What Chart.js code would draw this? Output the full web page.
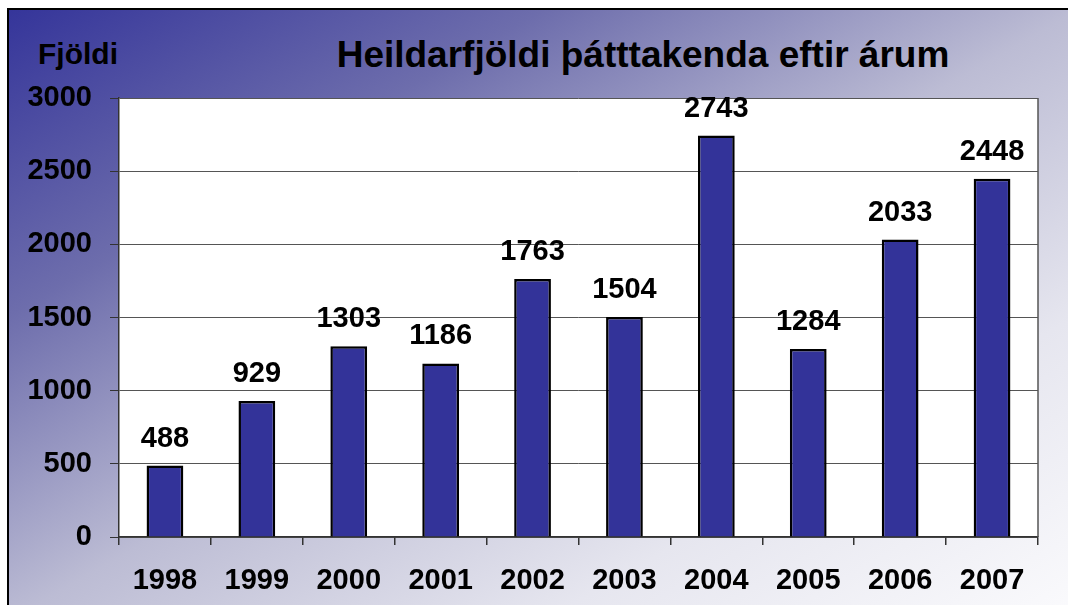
<!DOCTYPE html>
<html>
<head>
<meta charset="utf-8">
<script src="https://cdn.jsdelivr.net/npm/chart.js@4"></script>
<style>
  html, body { margin: 0; padding: 0; background: #fff; overflow: hidden; }
  body { width: 1068px; height: 605px; position: relative; font-family: "Liberation Sans", Arial, sans-serif; }
  #topline { position: absolute; left: 130px; top: -23px; font: bold 19px "DejaVu Serif", serif; color: #4a86c8; white-space: nowrap; }
  #frame { position: absolute; left: 7px; top: 8px; width: 1070px; height: 610px; border-top: 2px solid #000; border-left: 2px solid #000;
           background: linear-gradient(to bottom right, #35359a 0%, #6d6dac 25%, #bcbcd4 50%, #e6e6ef 75%, #fbfbfd 100%); }
  #ylabel { position: absolute; left: 38px; top: 39px; font-weight: bold; font-size: 30px; line-height: 30px; color: #000; }
  #title { position: absolute; left: 643px; top: 36px; transform: translateX(-50%); font-weight: bold; font-size: 37px; line-height: 37px; color: #000; white-space: nowrap; }
  #chart { position: absolute; left: 0; top: 0; }
</style>
</head>
<body>
<div id="topline">Mynd: Fjöldi þátttakenda eftir ári</div>
<div id="frame"></div>
<div id="ylabel">Fjöldi</div>
<div id="title">Heildarfjöldi þátttakenda eftir árum</div>
<canvas id="chart" width="1068" height="605"></canvas>
<script>
// Chart data
const years = ['1998', '1999', '2000', '2001', '2002', '2003', '2004', '2005', '2006', '2007'];
const participants = [488, 929, 1303, 1186, 1763, 1504, 2743, 1284, 2033, 2448];
const yTicks = [0, 500, 1000, 1500, 2000, 2500, 3000];

const boldFont = { family: '"Liberation Sans", Arial, sans-serif', size: 29, weight: 'bold' };

// White plot background + right border
const plotArea = {
    id: 'plotArea',
    beforeDraw(chart) {
        const { ctx, chartArea: a } = chart;
        ctx.save();
        ctx.fillStyle = '#fff';
        ctx.fillRect(a.left, a.top, a.right - a.left, a.bottom - a.top);
        ctx.restore();
    },
    afterDraw(chart) {
        const { ctx, chartArea: a } = chart;
        ctx.save();
        ctx.strokeStyle = '#555';
        ctx.lineWidth = 1.5;
        ctx.beginPath();
        ctx.moveTo(a.right, a.top);
        ctx.lineTo(a.right, a.bottom);
        ctx.stroke();
        ctx.restore();
    }
};

// Values above bars
const valueLabels = {
    id: 'valueLabels',
    afterDatasetsDraw(chart) {
        const ctx = chart.ctx;
        const meta = chart.getDatasetMeta(0);
        ctx.save();
        ctx.font = 'bold 29px "Liberation Sans", Arial, sans-serif';
        ctx.fillStyle = '#000';
        ctx.textAlign = 'center';
        ctx.textBaseline = 'alphabetic';
        meta.data.forEach((bar, i) => {
            ctx.fillText(String(participants[i]), bar.x, bar.y - 19);
        });
        ctx.restore();
    }
};

new Chart(document.getElementById('chart').getContext('2d'), {
    type: 'bar',
    data: {
        labels: years,
        datasets: [{
            data: participants,
            backgroundColor: '#333399',
            borderColor: '#000',
            borderWidth: 2.5,
            barPercentage: 0.4,
            categoryPercentage: 1
        }]
    },
    options: {
        responsive: false,
        animation: false,
        layout: { padding: { top: 98, right: 30, left: 0, bottom: 0 } },
        plugins: { legend: { display: false }, tooltip: { enabled: false } },
        scales: {
            y: {
                min: 0,
                max: 3000,
                afterBuildTicks(axis) { axis.ticks = yTicks.map(v => ({ value: v })); },
                afterFit(axis) { axis.width = 119; },
                ticks: { font: boldFont, color: '#000', padding: 18, callback: v => String(v) },
                grid: { color: '#555', lineWidth: 1, tickLength: 9, tickColor: '#333' },
                border: { color: '#333', width: 1.5 }
            },
            x: {
                offset: true,
                afterFit(axis) { axis.height = 68; },
                ticks: { font: boldFont, color: '#000', padding: 19 },
                grid: { offset: true, drawOnChartArea: false, tickLength: 8, tickColor: '#333', lineWidth: 1.5 },
                border: { color: '#333', width: 1.5 }
            }
        }
    },
    plugins: [plotArea, valueLabels]
});
</script>
</body>
</html>
